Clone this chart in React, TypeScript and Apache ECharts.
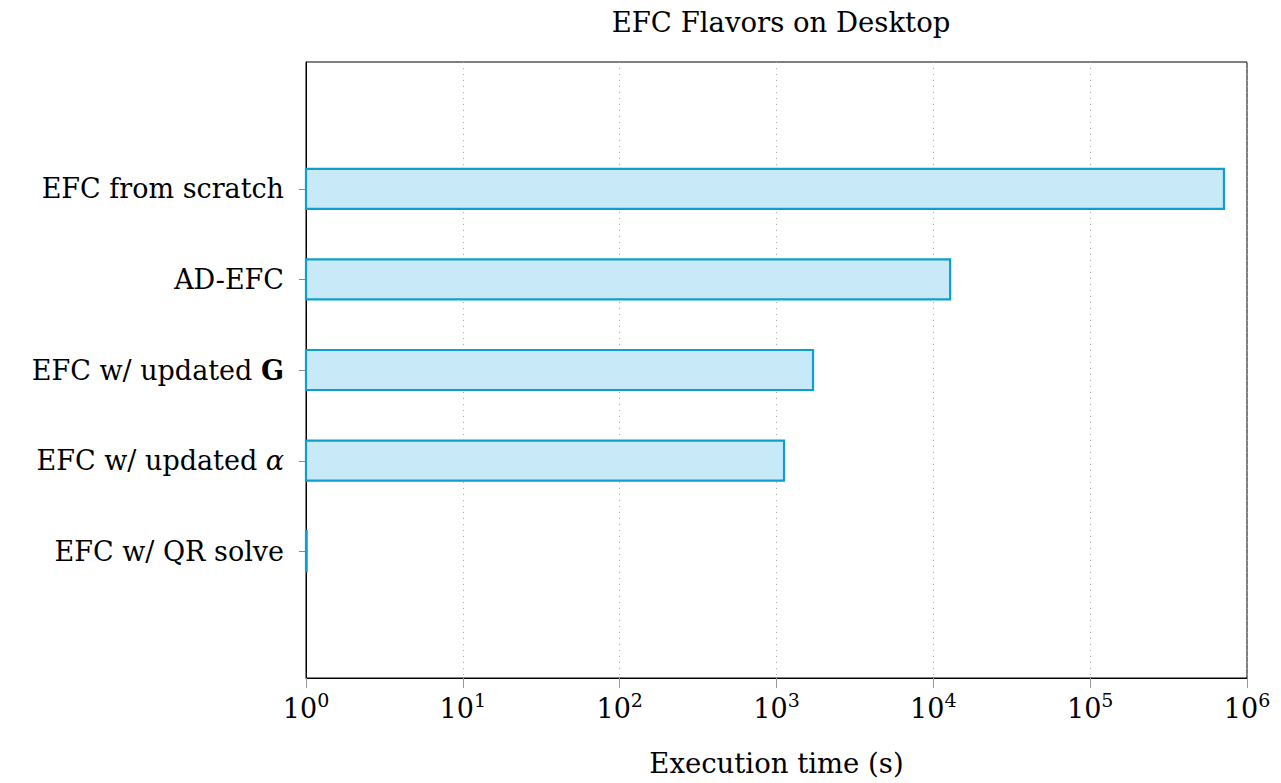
import React, { useEffect, useRef } from "react";
import * as echarts from "echarts";

const categories = [
  "EFC from scratch",
  "AD-EFC",
  "EFC w/ updated G",
  "EFC w/ updated α",
  "EFC w/ QR solve",
];
const categoryLabels = [
  "EFC from scratch",
  "AD-EFC",
  "EFC w/ updated {b|G}",
  "EFC w/ updated {i|α}",
  "EFC w/ QR solve",
];
const executionTimes = [713000, 12800, 1710, 1117, 1.01];
const xTickExponents = [0, 1, 2, 3, 4, 5, 6];

const FONT = "'DejaVu Serif', 'Liberation Serif', serif";
const FS = 27;
const FS_T = 27.5;

export default function App() {
  const ref = useRef<HTMLDivElement>(null);
  useEffect(() => {
    if (!ref.current) return;
    const chart = echarts.init(ref.current, null, { renderer: "svg" });
    const catIdx = categories.map((_, i) => i);
    chart.setOption({
      animation: false,
      title: {
        text: "EFC Flavors on Desktop",
        left: 776,
        textAlign: "center",
        top: 3,
        textStyle: { fontFamily: FONT, fontSize: FS_T, fontWeight: "normal", color: "#000" },
      },
      grid: {
        left: 306,
        right: 34,
        top: 62,
        bottom: 105,
        show: true,
        borderColor: "#000",
        borderWidth: 1,
        backgroundColor: "transparent",
      },
      xAxis: {
        type: "log",
        logBase: 10,
        min: 1,
        max: 1e6,
        name: "Execution time (s)",
        nameLocation: "middle",
        nameGap: 71,
        nameTextStyle: { fontFamily: FONT, fontSize: FS_T, color: "#000" },
        axisLine: { show: true, onZero: false, lineStyle: { color: "#000", width: 1 } },
        axisTick: { show: true, length: 10, inside: false, lineStyle: { color: "#999" } },
        minorTick: { show: false },
        splitLine: { show: true, lineStyle: { color: "#aaa", type: [1, 5], width: 1 } },
        axisLabel: {
          margin: 12,
          formatter: (v: number) => {
            const e = Math.round(Math.log10(v));
            return xTickExponents.includes(e) ? `{b|10}{s|${e}}` : "";
          },
          rich: {
            b: { fontFamily: FONT, fontSize: FS, color: "#000", verticalAlign: "bottom" },
            s: { fontFamily: FONT, fontSize: 19, color: "#000", verticalAlign: "top", padding: [0, 0, 13, 0] },
          },
        },
      },
      yAxis: {
        type: "value",
        inverse: true,
        min: -1.4,
        max: 5.4,
        axisLine: { show: true, onZero: false, lineStyle: { color: "#000", width: 1 } },
        splitLine: { show: false },
        axisTick: { show: false },
        axisLabel: {
          margin: 22,
          customValues: catIdx,
          formatter: (v: number) => categoryLabels[Math.round(v)] ?? "",
          fontFamily: FONT,
          fontSize: FS,
          color: "#000",
          rich: {
            b: { fontFamily: FONT, fontSize: FS, fontWeight: "bold", color: "#000" },
            i: { fontFamily: FONT, fontSize: FS, fontStyle: "italic", color: "#000" },
          },
        },
      },
      series: [
        {
          type: "custom",
          data: executionTimes.map((v, i) => [v, i]),
          encode: { x: 0, y: 1 },
          clip: false,
          renderItem: (params: any, api: any) => {
            const v = api.value(0);
            const idx = api.value(1);
            const start = api.coord([1, idx]);
            const end = api.coord([v, idx]);
            const h = 40;
            const ty = Math.round(start[1]) + 0.5;
            return {
              type: "group",
              children: [
                {
                  type: "line",
                  shape: { x1: start[0] - 7, y1: ty, x2: start[0], y2: ty },
                  style: { stroke: "#888", lineWidth: 1 },
                },
                {
                  type: "rect",
                  shape: { x: start[0], y: start[1] - h / 2, width: Math.max(end[0] - start[0], 0), height: h },
                  style: { fill: "#c8e9f8", stroke: "#0e9fd1", lineWidth: 2.2 },
                },
              ],
            };
          },
        },
      ],
    });
    return () => chart.dispose();
  }, []);
  return (
    <div
      ref={ref}
      style={{ position: "absolute", left: 0, top: 0, width: 1281, height: 783, background: "#fff" }}
    />
  );
}
